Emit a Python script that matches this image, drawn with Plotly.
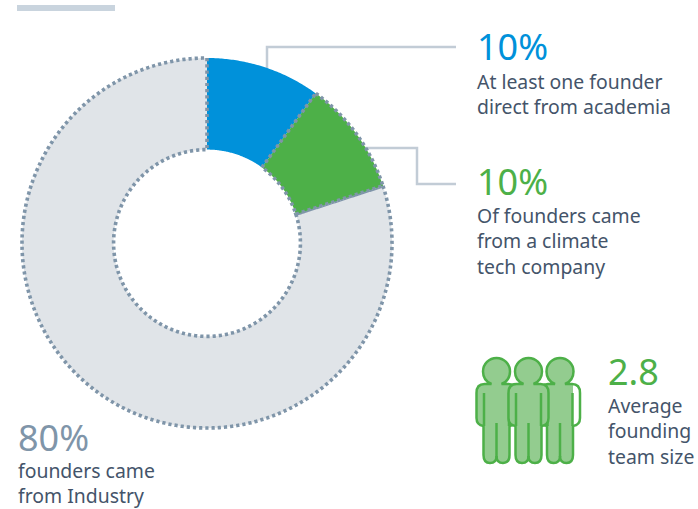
import numpy as np
import plotly.graph_objects as go

# Founder background shares, clockwise from 12 o'clock
slice_names = ["Academia", "Climate tech company", "Industry"]
slice_values = [10, 10, 80]
slice_fills = ["#0091da", "#4db048", "#e0e4e8"]
slice_borders = [None, "#7f95a9", "#7f95a9"]

FONT = "Noto Sans"
INK = "#44546a"
BLUE = "#0091da"
GREEN = "#4db048"
SLATE = "#7f95a9"
CONNECTOR = "#c2ccd6"
PERSON_FILL = "#93cc8f"

# Callouts: x, y of the headline, headline, colour, body lines with their y
callouts = [
    (477, 46, "10%", BLUE, [("At least one founder", 81), ("direct from academia", 106)]),
    (477, 181, "10%", GREEN, [("Of founders came", 215), ("from a climate", 240), ("tech company", 266)]),
    (18, 437, "80%", SLATE, [("founders came", 470), ("from Industry", 495)]),
    (608, 371, "2.8", GREEN, [("Average", 405), ("founding", 430), ("team size", 456)]),
]

W, H = 698, 509
HOLE = 0.505
RADIAL_MAX = 1.06  # headroom so the dotted rim is not trimmed by the polar frame
CX, CY, RADIUS = 207, 243, 185

fig = go.Figure()

# Leader lines from the two highlighted slices
leaders = [
    ([267, 267, 456], [68, 47, 47]),
    ([362, 417, 417, 456], [148, 148, 184, 184]),
]
for xs, ys in leaders:
    fig.add_trace(go.Scatter(x=xs, y=ys, mode="lines", hoverinfo="skip",
                             line=dict(color=CONNECTOR, width=2.5)))


def ring_sector(start_pct, end_pct):
    """Closed outline of a donut sector, as polar r and theta."""
    a0, a1 = start_pct * 3.6, end_pct * 3.6
    n = max(int(a1 - a0) * 2, 2)
    outer = np.linspace(a0, a1, n)
    inner = outer[::-1]
    theta = np.concatenate([outer, inner, [a0]])
    r = np.concatenate([np.ones(n), np.full(n, HOLE), [1.0]])
    return r, theta


edges = np.concatenate([[0], np.cumsum(slice_values)])
# The borderless slice goes first; the dotted ones sit on top of its edges
for i in (0, 2, 1):
    r, theta = ring_sector(edges[i], edges[i + 1])
    border = slice_borders[i]
    line = dict(color=border, width=3.6, dash="3.2px,3px") if border else dict(width=0)
    fig.add_trace(go.Scatterpolar(
        r=r, theta=theta, name=slice_names[i], mode="lines", fill="toself",
        fillcolor=slice_fills[i], line=line, hoverinfo="name", subplot="polar",
        cliponaxis=False,
    ))


def person_path(cx, with_right_arm=True):
    """Outline of a standing figure centred on x = cx."""
    top, neck, head_r = 358, 384, 13.5
    k = 0.55 * head_r
    mid = top + head_r
    p = f"M{cx - 5},{neck} "
    p += f"C{cx - 10},{neck - 2} {cx - head_r},{mid + k} {cx - head_r},{mid} "
    p += f"C{cx - head_r},{mid - k} {cx - k},{top} {cx},{top} "
    p += f"C{cx + k},{top} {cx + head_r},{mid - k} {cx + head_r},{mid} "
    p += f"C{cx + head_r},{mid + k} {cx + 10},{neck - 2} {cx + 5},{neck} "
    if with_right_arm:
        p += f"L{cx + 12},{neck} Q{cx + 20},{neck} {cx + 20},{neck + 9} "
        p += f"L{cx + 20},418 Q{cx + 20},425 {cx + 13},426 "
    else:
        p += f"L{cx + 13},{neck} L{cx + 13},426 "
    p += f"L{cx + 13},455 Q{cx + 13},463 {cx + 6.5},463 Q{cx},463 {cx},456 "
    p += f"Q{cx},463 {cx - 6.5},463 Q{cx - 13},463 {cx - 13},455 "
    p += f"L{cx - 13},426 Q{cx - 20},425 {cx - 20},418 L{cx - 20},{neck + 9} "
    p += f"Q{cx - 20},{neck} {cx - 12},{neck} Z"
    return p


shapes = [
    # Accent bar at the top
    dict(type="rect", xref="x", yref="y", x0=17, x1=115, y0=5, y1=11,
         fillcolor="#c9d4de", line=dict(width=0), layer="below"),
]
# Drawn back to front: the middle figure overlaps its neighbours
for cx in (496.5, 560, 528.5):
    whole = person_path(cx)
    fill_path = person_path(cx, with_right_arm=cx != 560)
    shapes.append(dict(type="path", xref="x", yref="y", path=fill_path,
                       fillcolor=PERSON_FILL, line=dict(width=0), layer="above"))
    shapes.append(dict(type="path", xref="x", yref="y", path=whole,
                       line=dict(color=GREEN, width=2.5), layer="above"))
    # Arm seams and the split between the legs
    for path in (f"M{cx - 12.5},393 L{cx - 12.5},426",
                 f"M{cx + 12.5},393 L{cx + 12.5},426",
                 f"M{cx},423 L{cx},457"):
        shapes.append(dict(type="path", xref="x", yref="y", path=path,
                           line=dict(color=GREEN, width=2.5), layer="above"))

annotations = []
for x, y, headline, colour, body in callouts:
    annotations.append(dict(x=x, y=y, text=headline, xref="x", yref="y", showarrow=False,
                            xanchor="left", yanchor="middle", xshift=-2,
                            font=dict(family=FONT, size=36, color=colour)))
    for text, line_y in body:
        annotations.append(dict(x=x, y=line_y, text=text, xref="x", yref="y", showarrow=False,
                                xanchor="left", yanchor="middle", xshift=-2,
                                font=dict(family=FONT, size=19.4, color=INK)))

polar_r = RADIUS * RADIAL_MAX
fig.update_layout(
    width=W, height=H, autosize=False,
    margin=dict(l=0, r=0, t=0, b=0),
    paper_bgcolor="white", plot_bgcolor="white",
    showlegend=False,
    xaxis=dict(range=[0, W], visible=False, domain=[0, 1], fixedrange=True),
    yaxis=dict(range=[H, 0], visible=False, domain=[0, 1], fixedrange=True),
    polar=dict(
        domain=dict(x=[(CX - polar_r) / W, (CX + polar_r) / W],
                    y=[1 - (CY + polar_r) / H, 1 - (CY - polar_r) / H]),
        bgcolor="rgba(0,0,0,0)",
        radialaxis=dict(range=[0, RADIAL_MAX], visible=False),
        angularaxis=dict(rotation=90, direction="clockwise", visible=False),
    ),
    shapes=shapes,
    annotations=annotations,
)

fig.write_html("out.html", config=dict(displayModeBar=False))
